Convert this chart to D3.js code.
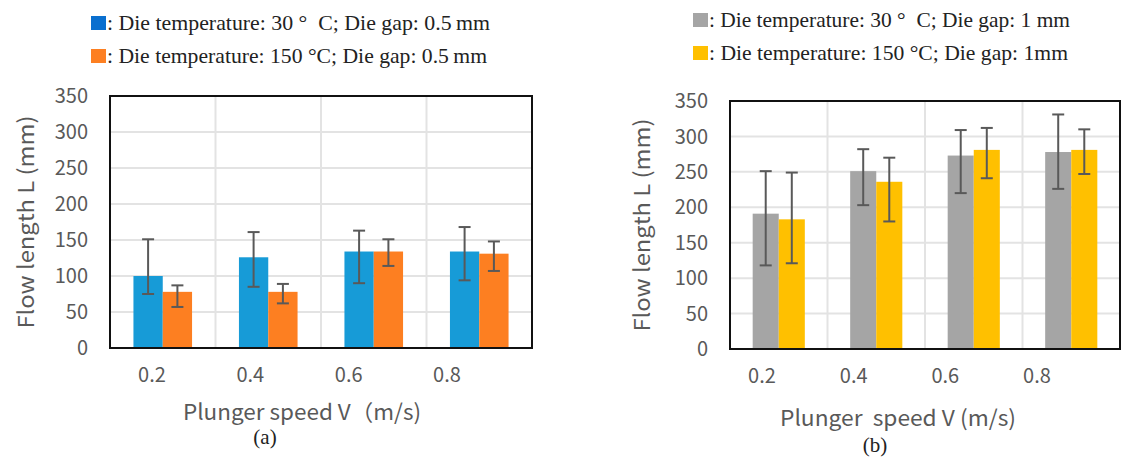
<!DOCTYPE html>
<html>
<head>
<meta charset="utf-8">
<script src="https://cdn.jsdelivr.net/npm/d3@7"></script>
<style>
  body { margin: 0; background: #fff; }
  svg text { white-space: pre; }
</style>
</head>
<body>
<div id="chart"></div>
<script>
// categories (plunger speed, m/s)
const speeds = ["0.2", "0.4", "0.6", "0.8"];

// panel (a): die gap 0.5 mm
const aCold = [100, 126, 134, 134];
const aColdLo = [75, 85, 90, 94];
const aColdHi = [151, 161, 163, 168];
const aHot = [78, 78, 134, 131];
const aHotLo = [57, 62, 114, 107];
const aHotHi = [87, 89, 151, 148];

// panel (b): die gap 1 mm
const bCold = [191, 251, 273, 278];
const bColdLo = [118, 203, 220, 226];
const bColdHi = [251, 282, 309, 331];
const bHot = [183, 236, 281, 281];
const bHotLo = [121, 180, 241, 247];
const bHotHi = [249, 270, 312, 310];

const yTicks = [0, 50, 100, 150, 200, 250, 300, 350];

const svg = d3.select("#chart").append("svg")
    .attr("width", 1122)
    .attr("height", 461);

const sansFont = "'Noto Sans CJK JP', 'Noto Sans', sans-serif";
const serifFont = "'Liberation Serif', 'DejaVu Serif', serif";
const textGray = "#595959";

function drawPanel(p) {
    var x = d3.scaleBand()
        .domain(speeds)
        .range([p.left, p.right]);
    var inner = d3.scaleBand()
        .domain(["cold", "hot"])
        .range([0, x.bandwidth()])
        .paddingOuter(p.pad);
    var y = d3.scaleLinear()
        .domain([0, 350])
        .range([p.bottom, p.top]);
    // tick labels in the picture sit on a slightly narrower spread than the bars
    var labelX = d3.scalePoint()
        .domain(speeds)
        .range(p.labelRange);

    var g = svg.append("g");

    // horizontal grid
    g.append("g").selectAll("line")
        .data(yTicks.slice(1))
        .enter().append("line")
        .attr("x1", p.left).attr("x2", p.right)
        .attr("y1", d => y(d)).attr("y2", d => y(d))
        .attr("stroke", "#e3e3e3")
        .attr("stroke-width", 2);

    // vertical grid at category boundaries
    g.append("g").selectAll("line")
        .data(speeds.slice(1))
        .enter().append("line")
        .attr("x1", d => x(d)).attr("x2", d => x(d))
        .attr("y1", p.top).attr("y2", p.bottom)
        .attr("stroke", "#e3e3e3")
        .attr("stroke-width", 2);

    var series = [
        {key: "cold", vals: p.cold, lo: p.coldLo, hi: p.coldHi, color: p.colors[0]},
        {key: "hot", vals: p.hot, lo: p.hotLo, hi: p.hotHi, color: p.colors[1]}
    ];

    series.forEach(function (s) {
        g.append("g").selectAll("rect")
            .data(s.vals)
            .enter().append("rect")
            .attr("x", (d, i) => x(speeds[i]) + inner(s.key))
            .attr("y", d => y(d))
            .attr("width", inner.bandwidth())
            .attr("height", d => y(0) - y(d))
            .attr("fill", s.color);
    });

    // error bars
    series.forEach(function (s) {
        var eg = g.append("g")
            .attr("stroke", "#595959")
            .attr("stroke-width", 2);
        s.vals.forEach(function (d, i) {
            var cx = x(speeds[i]) + inner(s.key) + inner.bandwidth() / 2;
            eg.append("line")
                .attr("x1", cx).attr("x2", cx)
                .attr("y1", y(s.lo[i])).attr("y2", y(s.hi[i]));
            [s.lo[i], s.hi[i]].forEach(function (v) {
                eg.append("line")
                    .attr("x1", cx - 6).attr("x2", cx + 6)
                    .attr("y1", y(v)).attr("y2", y(v));
            });
        });
    });

    // frame
    g.append("rect")
        .attr("x", p.left).attr("y", p.top)
        .attr("width", p.right - p.left)
        .attr("height", p.bottom - p.top)
        .attr("fill", "none")
        .attr("stroke", "#111")
        .attr("stroke-width", 2);

    // y tick labels
    g.append("g").selectAll("text")
        .data(yTicks)
        .enter().append("text")
        .attr("x", p.left - 22)
        .attr("y", d => y(d))
        .attr("dy", "0.36em")
        .attr("text-anchor", "end")
        .style("font", "20px " + sansFont)
        .attr("fill", textGray)
        .text(d => d);

    // x tick labels
    g.append("g").selectAll("text")
        .data(speeds)
        .enter().append("text")
        .attr("x", d => labelX(d))
        .attr("y", p.bottom + 34)
        .attr("text-anchor", "middle")
        .style("font", "20px " + sansFont)
        .attr("fill", textGray)
        .text(d => d);

    // y title
    g.append("text")
        .attr("transform", "translate(" + p.yTitleX + "," + ((p.top + p.bottom) / 2) + ") rotate(-90)")
        .attr("text-anchor", "middle")
        .attr("dy", "0.36em")
        .attr("textLength", 213)
        .attr("lengthAdjust", "spacingAndGlyphs")
        .style("font", "22px " + sansFont)
        .attr("fill", textGray)
        .text("Flow length L (mm)");

    // x title
    g.append("text")
        .attr("x", p.xTitleX)
        .attr("y", p.xTitleY)
        .attr("text-anchor", "middle")
        .attr("textLength", p.xTitleLen)
        .attr("lengthAdjust", "spacingAndGlyphs")
        .style("font", "22px " + sansFont)
        .attr("fill", textGray)
        .text(p.xTitle);

    // panel letter
    g.append("text")
        .attr("x", p.letterX)
        .attr("y", p.letterY)
        .attr("text-anchor", "middle")
        .style("font", "21px " + serifFont)
        .attr("fill", "#222")
        .text(p.letter);

    // legend
    p.legend.forEach(function (l, i) {
        g.append("rect")
            .attr("x", p.legX)
            .attr("y", p.legY + i * 33 - 14)
            .attr("width", 15)
            .attr("height", 14)
            .attr("fill", l.color);
        g.append("text")
            .attr("x", p.legX + 16)
            .attr("y", p.legY + i * 33)
            .attr("textLength", l.len)
            .attr("lengthAdjust", "spacingAndGlyphs")
            .style("font", "21px " + serifFont)
            .attr("fill", "#222")
            .text(l.text);
    });
}

drawPanel({
    left: 110, right: 532, top: 96, bottom: 348, pad: 0.8,
    cold: aCold, coldLo: aColdLo, coldHi: aColdHi,
    hot: aHot, hotLo: aHotLo, hotHi: aHotHi,
    colors: ["#179bd7", "#fd7f21"],
    labelRange: [152, 447],
    yTitleX: 26,
    xTitle: "Plunger speed V\uFF08m/s)", xTitleX: 302, xTitleY: 420, xTitleLen: 238,
    letter: "(a)", letterX: 265, letterY: 444,
    legX: 91, legY: 30,
    legend: [
        {color: "#0a6fcf", text: ": Die temperature: 30 \u00B0  C; Die gap: 0.5\u2009mm", len: 383},
        {color: "#fd7f21", text: ": Die temperature: 150 \u00B0C; Die gap: 0.5\u2009mm", len: 380}
    ]
});

drawPanel({
    left: 730, right: 1120, top: 101, bottom: 349, pad: 0.87,
    cold: bCold, coldLo: bColdLo, coldHi: bColdHi,
    hot: bHot, hotLo: bHotLo, hotHi: bHotHi,
    colors: ["#a5a5a5", "#ffc000"],
    labelRange: [762, 1037],
    yTitleX: 642,
    xTitle: "Plunger  speed V (m/s)", xTitleX: 898, xTitleY: 426, xTitleLen: 236,
    letter: "(b)", letterX: 875, letterY: 452,
    legX: 693, legY: 27,
    legend: [
        {color: "#a5a5a5", text: ": Die temperature: 30 \u00B0  C; Die gap: 1 mm", len: 361},
        {color: "#ffc000", text: ": Die temperature: 150 \u00B0C; Die gap: 1mm", len: 359}
    ]
});
</script>
</body>
</html>
